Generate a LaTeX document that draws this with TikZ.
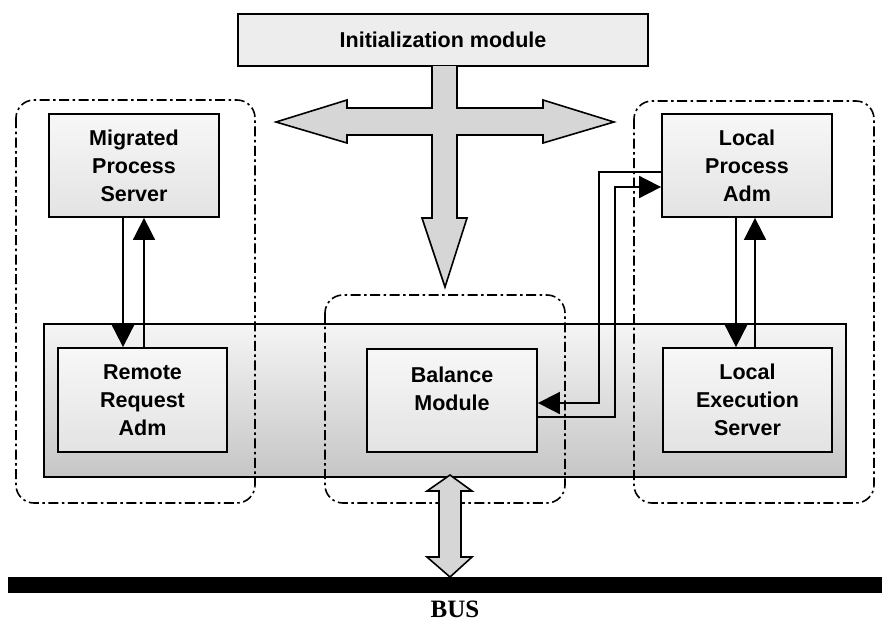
\documentclass[tikz,border=0pt]{standalone}
\usepackage{fontspec}
\setmainfont{Liberation Sans}
\newfontfamily\busfont{Liberation Serif}
\usetikzlibrary{arrows.meta,calc}
\begin{document}
\begin{tikzpicture}[x=1pt,y=-1pt,
  lbl/.style={font=\fontsize{21.5}{28}\selectfont\bfseries, align=center},
  modbox/.style={draw, line width=1.8pt, top color=gray!6, bottom color=gray!22, lbl,
     minimum width=170pt, minimum height=103pt, inner sep=0pt},
  group/.style={draw, line width=1.6pt, rounded corners=18pt,
     dash pattern=on 10pt off 3.5pt on 2.5pt off 3.5pt},
  conn/.style={line width=1.8pt, -{Triangle[length=22pt,width=22pt]}},
  bigarrow/.style={draw, line width=1.6pt, fill=gray!32, line join=miter}
]
\useasboundingbox (0,0) rectangle (882,622);

% initialization module
\node[draw, line width=1.8pt, fill=gray!14, lbl, minimum width=410pt, minimum height=52pt, inner sep=0pt]
  (init) at (443,40) {Initialization module};

% cross arrow
\draw[bigarrow] (432,66) -- (432,108) -- (347,108) -- (347,100) -- (276,122) -- (347,143)
  -- (347,135) -- (432,135) -- (432,218) -- (422,218) -- (445,287) -- (467,218) -- (457,218)
  -- (457,135) -- (543,135) -- (543,143) -- (614,122) -- (543,100) -- (543,108) -- (457,108)
  -- (457,66);

% strip
\node[draw, line width=1.4pt, top color=gray!8, bottom color=gray!45, minimum width=802pt,
  minimum height=153pt, inner sep=0pt] (strip) at (445,400.5) {};

% module boxes
\node[modbox] (mps) at (134,165.5) {Migrated\\Process\\Server};
\node[modbox] (lpa) at (747,165.5) {Local\\Process\\Adm};
\node[modbox, minimum width=169pt, minimum height=104pt] (rra) at (142.5,400) {Remote\\Request\\Adm};
\node[modbox] (bal) at (452,400.5) {Balance\\Module\\[-5pt]\mbox{}};
\node[modbox, minimum width=169pt, minimum height=104pt] (les) at (747.5,400) {Local\\Execution\\Server};

% groups
\draw[group] (16,100) rectangle (255,503);
\draw[group] (325,295) rectangle (565,503);
\draw[group] (634,101) rectangle (874,503);

% connectors
\draw[conn] ($(mps.south)+(-11,0)$) -- ($(rra.north)+(-19.5,0)$);
\draw[conn] ($(rra.north)+(1.5,0)$) -- ($(mps.south)+(10,0)$);
\draw[conn] ($(lpa.south)+(-11,0)$) -- ($(les.north)+(-11.5,0)$);
\draw[conn] ($(les.north)+(7.5,0)$) -- ($(lpa.south)+(8,0)$);
\draw[conn] ($(lpa.west)+(0,6.5)$) -| ($(bal.east)+(61,2.5)$) -- ($(bal.east)+(0,2.5)$);
\draw[conn] ($(bal.east)+(0,16.5)$) -- ++(77,0) |- ($(lpa.west)+(0,21.5)$);

% bus
\node[fill=black, minimum width=874pt, minimum height=16pt, inner sep=0pt] (bus) at (445,585) {};
\node[font=\busfont\fontsize{25}{28}\selectfont\bfseries, inner sep=0pt, anchor=base] (buslbl) at (455,617) {BUS};

% bus double arrow
\draw[bigarrow] (450,475) -- (472,491) -- (461,491) -- (461,557) -- (472,557) -- (450,577)
  -- (427,557) -- (439,557) -- (439,491) -- (427,491) -- cycle;
\end{tikzpicture}
\end{document}
